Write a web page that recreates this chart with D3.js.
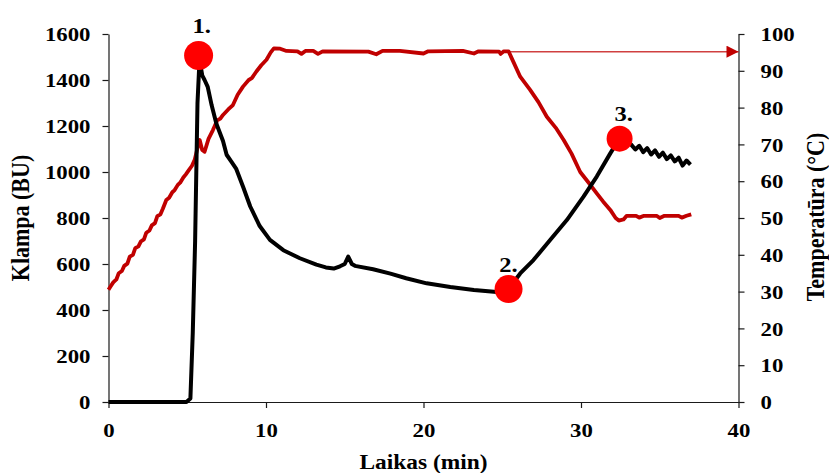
<!DOCTYPE html>
<html>
<head>
<meta charset="utf-8">
<script src="https://cdn.jsdelivr.net/npm/d3@7"></script>
<style>
  body { margin: 0; background: #fff; }
  svg text { font-family: "Liberation Serif", "Times New Roman", serif; font-weight: bold; fill: #000; }
</style>
</head>
<body>
<div id="chart"></div>
<script>
// viscosity curve (Klampa, BU) vs time (min)
const viscTime = [0, 4.95, 5.2, 5.35, 5.5, 5.65, 5.78, 5.95, 6.1, 6.3, 6.55, 6.85, 7.27, 7.5, 7.8, 8.1, 8.55, 9.0, 9.6, 10.25, 11.1, 12.15, 13.2, 13.8, 14.3, 14.7, 15.0, 15.22, 15.45, 15.65, 16.8, 17.9, 18.9, 20.2, 21.7, 23.2, 24.65, 25.2, 25.6, 26.14, 26.98, 28.04, 29.1, 30.16, 31.0, 31.86, 32.3, 32.6, 33.0, 33.2, 33.45, 33.7, 33.95, 34.2, 34.45, 34.7, 34.95, 35.2, 35.45, 35.7, 35.95, 36.2, 36.45, 36.7, 36.95];
const viscValue = [0, 0, 15, 300, 700, 1300, 1490, 1420, 1400, 1370, 1290, 1210, 1135, 1075, 1045, 1015, 935, 850, 765, 705, 660, 625, 597, 585, 580, 590, 600, 632, 600, 592, 577, 558, 538, 516, 500, 487, 478, 476, 510, 559, 617, 704, 791, 893, 980, 1081, 1130, 1140, 1130, 1118, 1098, 1114, 1086, 1104, 1076, 1094, 1066, 1084, 1056, 1072, 1046, 1062, 1028, 1050, 1032];

// temperature curve (°C) vs time (min)
const tempTime = [0, 0.15, 0.3, 0.5, 0.65, 0.85, 1.0, 1.2, 1.35, 1.55, 1.7, 1.9, 2.05, 2.25, 2.4, 2.6, 2.75, 2.95, 3.1, 3.3, 3.45, 3.67, 3.85, 4.05, 4.2, 4.4, 4.55, 4.75, 4.9, 5.1, 5.3, 5.47, 5.65, 5.79, 5.95, 6.1, 6.35, 6.63, 6.9, 7.1, 7.27, 7.6, 7.9, 8.2, 8.54, 8.9, 9.1, 9.39, 9.7, 10.03, 10.3, 10.5, 10.9, 11.3, 12.0, 12.25, 12.5, 13.0, 13.3, 13.6, 16.5, 17.0, 17.4, 18.5, 20.0, 20.3, 22.5, 23.2, 23.5, 24.8, 24.9, 25.1, 25.4, 25.7, 26.14, 26.77, 27.3, 27.83, 28.4, 28.9, 29.4, 29.95, 30.5, 31.0, 31.4, 31.86, 32.2, 32.4, 32.7, 32.9, 33.5, 33.7, 34.0, 34.8, 35.0, 35.3, 36.2, 36.4, 36.7, 37.0];
const tempValue = [30.5, 31.5, 32.5, 33.3, 35, 35.6, 37, 37.6, 39.5, 40, 41.8, 42.3, 43.6, 44.2, 46, 46.6, 48, 48.6, 50.5, 51, 52.5, 54.9, 55.5, 57, 57.6, 59, 59.6, 61, 61.8, 63, 64.2, 65.8, 69, 71.2, 68.5, 68, 71.5, 73.9, 76.5, 77, 78, 79.5, 80.7, 83.5, 85.7, 87.5, 88, 89.8, 91.5, 93, 95, 96.1, 96, 95.4, 95.3, 94.6, 95.4, 95.4, 94.6, 95.3, 95.2, 94.5, 95.4, 95.4, 94.7, 95.3, 95.4, 94.7, 95.3, 95.2, 94.6, 95.3, 95.3, 92.5, 88.4, 84.8, 81.5, 77.5, 74.5, 71.2, 67.5, 62.5, 59.5, 56.7, 54.5, 52.2, 50, 49.3, 49.6, 50.6, 50.6, 50.1, 50.6, 50.6, 50.0, 50.6, 50.6, 50.1, 50.6, 51.0];

// marked points 1., 2., 3.
const markTime = [5.72, 25.4, 32.45];
const markValue = [1507, 491, 1145];
const markLabel = ["1.", "2.", "3."];

// holding arrow (temperature plateau to the right axis)
const arrowFrom = 25.4, arrowTemp = 95.2;

const xTicks = [0, 10, 20, 30, 40];
const yTicks = [0, 200, 400, 600, 800, 1000, 1200, 1400, 1600];
const y2Ticks = [0, 10, 20, 30, 40, 50, 60, 70, 80, 90, 100];

const width = 829, height = 473;
const plotLeft = 108.5, plotRight = 738.5, plotTop = 34, plotBottom = 402;
const sx = 1.17; // text in the picture is wider than it is tall

const x = d3.scaleLinear().domain([0, 40]).range([plotLeft, plotRight]);
const y = d3.scaleLinear().domain([0, 1600]).range([plotBottom, plotTop]);
const y2 = d3.scaleLinear().domain([0, 100]).range([plotBottom, plotTop]);

const svg = d3.select("#chart").append("svg")
    .attr("width", width)
    .attr("height", height);

// axes
const gx = svg.append("g")
    .attr("transform", "translate(0," + plotBottom + ")")
    .call(d3.axisBottom(x).tickValues(xTicks).tickFormat(d3.format("d")).tickSize(6).tickSizeOuter(0));
gx.selectAll("text")
    .attr("y", 0).attr("dy", null)
    .attr("transform", "translate(0,35) scale(" + sx + ",1)");

const gy = svg.append("g")
    .attr("transform", "translate(" + plotLeft + ",0)")
    .call(d3.axisLeft(y).tickValues(yTicks).tickFormat(d3.format("d")).tickSize(6).tickSizeOuter(0));
gy.selectAll("text")
    .attr("x", 0).attr("dy", "0.34em")
    .attr("transform", "translate(-18,0) scale(" + sx + ",1)");

const gy2 = svg.append("g")
    .attr("transform", "translate(" + plotRight + ",0)")
    .call(d3.axisRight(y2).tickValues(y2Ticks).tickFormat(d3.format("d")).tickSize(6).tickSizeOuter(0));
gy2.selectAll("text")
    .attr("x", 0).attr("dy", "0.34em")
    .attr("transform", "translate(22,0) scale(" + sx + ",1)");

svg.selectAll(".domain, .tick line").attr("stroke", "#1a1a1a").attr("stroke-width", 1.2);
svg.selectAll(".tick text").style("font-size", "19.5px").attr("fill", "#000");

// axis titles
svg.append("text")
    .attr("transform", "translate(29,218) scale(1.1,1) rotate(-90)")
    .attr("text-anchor", "middle")
    .style("font-size", "22px")
    .text("Klampa (BU)");

svg.append("text")
    .attr("transform", "translate(824,217) scale(1.1,1) rotate(-90)")
    .attr("text-anchor", "middle")
    .style("font-size", "22px")
    .text("Temperatūra (°C)");

svg.append("text")
    .attr("transform", "translate(" + x(20) + ",469) scale(" + sx + ",1)")
    .attr("text-anchor", "middle")
    .style("font-size", "20px")
    .text("Laikas (min)");

// arrow marker
svg.append("defs").append("marker")
    .attr("id", "arrow")
    .attr("viewBox", "0 0 10 10")
    .attr("refX", 10).attr("refY", 5)
    .attr("markerUnits", "userSpaceOnUse")
    .attr("markerWidth", 15).attr("markerHeight", 12)
    .attr("orient", "auto")
    .append("path")
    .attr("d", "M0,0L10,5L0,10Z")
    .attr("fill", "#c00000");

svg.append("line")
    .attr("x1", x(arrowFrom)).attr("x2", plotRight)
    .attr("y1", y2(arrowTemp)).attr("y2", y2(arrowTemp))
    .attr("stroke", "#c00000")
    .attr("stroke-opacity", 0.75)
    .attr("stroke-width", 1.5)
    .attr("marker-end", "url(#arrow)");

// curves
const tempLine = d3.line()
    .x((d, i) => x(tempTime[i]))
    .y(d => y2(d));

svg.append("path")
    .datum(tempValue)
    .attr("d", tempLine)
    .attr("fill", "none")
    .attr("stroke", "#c00000")
    .attr("stroke-width", 3.8)
    .attr("stroke-linejoin", "round");

const viscLine = d3.line()
    .x((d, i) => x(viscTime[i]))
    .y(d => y(d));

svg.append("path")
    .datum(viscValue)
    .attr("d", viscLine)
    .attr("fill", "none")
    .attr("stroke", "#000")
    .attr("stroke-width", 4)
    .attr("stroke-linejoin", "round");

// marked points
const labelDx = [3, 0, 4];
const labelDy = [-22, -17, -18];
const radius = [14.5, 14, 13];

svg.selectAll(".mark")
    .data(markValue)
    .enter()
    .append("circle")
    .attr("class", "mark")
    .attr("cx", (d, i) => x(markTime[i]))
    .attr("cy", d => y(d))
    .attr("r", (d, i) => radius[i])
    .attr("fill", "#ff0000");

svg.selectAll(".mark-label")
    .data(markLabel)
    .enter()
    .append("text")
    .attr("class", "mark-label")
    .attr("text-anchor", "middle")
    .attr("transform", (d, i) => "translate(" + (x(markTime[i]) + labelDx[i]) + "," + (y(markValue[i]) + labelDy[i]) + ") scale(" + sx + ",1)")
    .style("font-size", "21px")
    .text(d => d);
</script>
</body>
</html>
